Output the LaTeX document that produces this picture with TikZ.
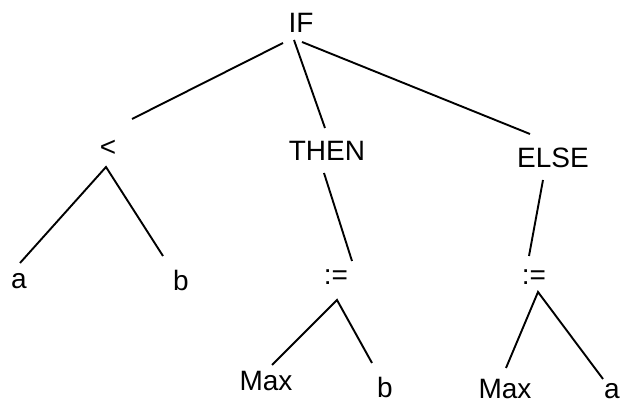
\documentclass[tikz,border=0pt]{standalone}
\usepackage{fontspec}
\setmainfont{Liberation Sans}

\begin{document}
\begin{tikzpicture}[
  x=1pt, y=-1pt,
  font=\fontsize{28}{32}\selectfont,
  token/.style={inner sep=0pt},
  branch/.style={draw, line width=1.9pt}
]
  \useasboundingbox (0,0) rectangle (625,403);

  \node [token] (if)   at (301,23)  {IF};
  \node [token] (lt)   at (108,148) {<};
  \node [token] (then) at (327,151) {THEN};
  \node [token] (else) at (553,158) {ELSE};
  \node [token] (a1)   at (19,281)  {a};
  \node [token] (b1)   at (181,280) {b};
  \node [token] (asg1) at (336,277) {:=};
  \node [token] (max1) at (266,381) {Max};
  \node [token] (b2)   at (385,387) {b};
  \node [token] (asg2) at (534,277) {:=};
  \node [token] (max2) at (505,389) {Max};
  \node [token] (a2)   at (612,391) {a};

  \draw [branch] ([shift={(-18,20)}]if.center) -- ([shift={(24,-29)}]lt.center);
  \draw [branch] ([shift={(-7,17)}]if.center) -- ([shift={(-2,-23)}]then.center);
  \draw [branch] ([shift={(1,19)}]if.center) -- ([shift={(-23,-24)}]else.center);

  \draw [branch] ([shift={(1,-18)}]a1.center) -- ([shift={(-2,19)}]lt.center)
    -- ([shift={(-18,-24)}]b1.center);

  \draw [branch] ([shift={(-3,22)}]then.center) -- ([shift={(16,-16)}]asg1.center);
  \draw [branch] ([shift={(6,-16)}]max1.center) -- ([shift={(1,23)}]asg1.center)
    -- ([shift={(-13,-24)}]b2.center);

  \draw [branch] ([shift={(-10,22)}]else.center) -- ([shift={(-5,-21)}]asg2.center);
  \draw [branch] ([shift={(1,-21)}]max2.center) -- ([shift={(4,15)}]asg2.center)
    -- ([shift={(-9,-12)}]a2.center);
\end{tikzpicture}
\end{document}
